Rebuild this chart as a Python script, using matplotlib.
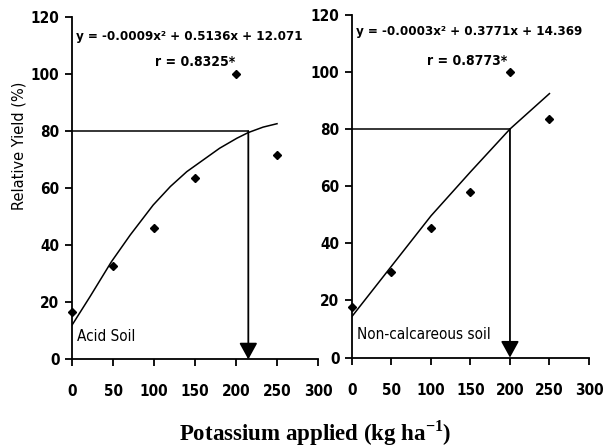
import numpy as np
import matplotlib
matplotlib.use("Agg")
from matplotlib import pyplot as plt

# Values
doses = [0, 50, 100, 150, 200, 250]

acidObserved = [16.5, 32.7, 46.0, 63.5, 100.0, 71.7]
acidCurveX = [0, 22, 48, 71, 99, 120, 140, 160, 180, 201, 215, 233, 250]
acidCurveY = [12.0, 22.0, 34.2, 43.6, 54.1, 60.6, 65.8, 69.9, 74.0, 77.5, 79.5, 81.4, 82.6]
acidCritical = 215

nonCalcObserved = [17.7, 30.1, 45.3, 57.8, 100.0, 83.4]
nonCalcCurveX = [0, 50, 100, 150, 200, 250]
nonCalcCurveY = [14.4, 32.0, 49.6, 65.0, 80.0, 92.4]
nonCalcCritical = 200

xTicks = [0, 50, 100, 150, 200, 250, 300]
yTicks = [0, 20, 40, 60, 80, 100, 120]

# DejaVu Sans condensed stands in for the narrow bold face of the original
narrow = ['DejaVu Sans', 'Liberation Sans']
plt.rcParams['mathtext.fontset'] = 'custom'
plt.rcParams['mathtext.rm'] = 'Liberation Serif:bold'

fig = plt.figure(figsize=(6.03, 4.47), dpi=100)
axLeft = fig.add_axes([0.1194, 0.196, 0.408, 0.766])
axRight = fig.add_axes([0.5837, 0.200, 0.393, 0.767])

panels = [
    (axLeft, acidObserved, acidCurveX, acidCurveY, acidCritical,
     "y = -0.0009x\u00b2 + 0.5136x + 12.071", "r = 0.8325*", (142.7, 113.0), (150, 104.3),
     "Acid Soil"),
    (axRight, nonCalcObserved, nonCalcCurveX, nonCalcCurveY, nonCalcCritical,
     "y = -0.0003x\u00b2 + 0.3771x + 14.369", "r = 0.8773*", (148, 114.0), (145.6, 103.9),
     "Non-calcareous soil"),
]

for ax, obs, cx, cy, crit, eq, rtxt, eqPos, rPos, soil in panels:
    ax.plot(doses, obs, linestyle='none', marker='D', markersize=3.8,
            color='black', clip_on=False, zorder=4)
    ax.plot(cx, cy, color='black', linewidth=1.1)

    # 80 % relative yield reading: horizontal line, then arrow down to the dose axis
    ax.plot([0, crit], [80, 80], color='black', linewidth=1.1)
    ax.annotate('', xy=(crit, 0), xytext=(crit, 80),
                arrowprops=dict(arrowstyle='-|>,head_length=1.0,head_width=0.55',
                                mutation_scale=10, color='black', lw=1.3,
                                shrinkA=0, shrinkB=0),
                annotation_clip=False)

    ax.text(eqPos[0], eqPos[1], eq, ha='center', va='center',
            family=narrow, fontstretch='condensed', fontweight='bold', fontsize=9.5)
    ax.text(rPos[0], rPos[1], rtxt, ha='center', va='center',
            family=narrow, fontstretch='condensed', fontweight='bold', fontsize=10)
    ax.text(6, 8, soil, ha='left', va='center', family=narrow,
            fontstretch='condensed', fontsize=11)

    ax.set_xlim(0, 300)
    ax.set_ylim(0, 120)
    ax.set_xticks(xTicks)
    ax.set_yticks(yTicks)
    for s in ['top', 'right']:
        ax.spines[s].set_visible(False)
    for s in ['left', 'bottom']:
        ax.spines[s].set_linewidth(1.3)
    ax.tick_params(axis='x', direction='out', length=5, width=1.3, pad=13)
    ax.tick_params(axis='y', direction='out', length=5, width=1.3, pad=4)
    for lab in ax.get_xticklabels() + ax.get_yticklabels():
        lab.set_family(narrow)
        lab.set_fontstretch('condensed')
        lab.set_fontweight('bold')
        lab.set_fontsize(11)

fig.text(0.0315, 0.673, "Relative Yield (%)", rotation=90, ha='center', va='center',
         family='DejaVu Sans', fontsize=10.5)
fig.text(0.522, 0.031, r"Potassium applied (kg ha$^{-1}$)", ha='center', va='center',
         family='Liberation Serif', fontweight='bold', fontsize=16.5)

fig.savefig('out.png', dpi=100)
